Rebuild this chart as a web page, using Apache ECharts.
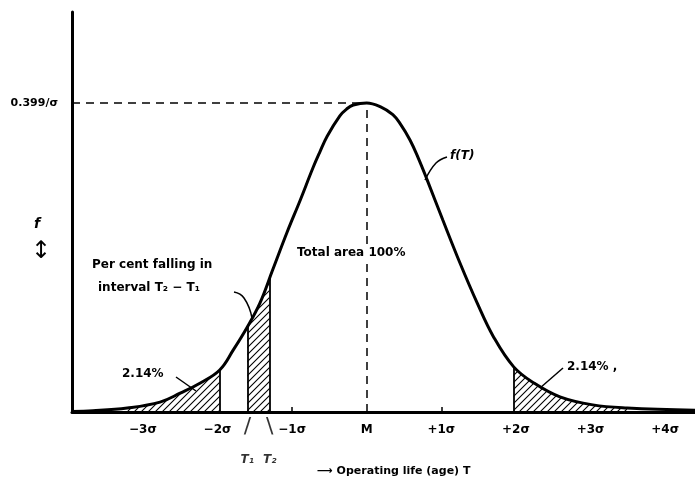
<!DOCTYPE html>
<html>
<head>
<meta charset="utf-8">
<script src="https://cdn.jsdelivr.net/npm/echarts@6/dist/echarts.min.js"></script>
<style>html,body{margin:0;padding:0;background:#fff}#chart{width:695px;height:481px}</style>
</head>
<body>
<div id="chart"></div>
<script>
// curve: x in sigma units from M, y as fraction of peak height
var sigma = [-3.95, -3.67, -3.21, -2.77, -2.5, -2.23, -1.97, -1.79, -1.6, -1.43, -1.26, -1.07, -0.89, -0.72, -0.63, -0.53, -0.36, -0.27, -0.18, 0,
             0.18, 0.35, 0.45, 0.58, 0.69, 0.81, 1.02, 1.25, 1.48, 1.7, 1.97, 2.24, 2.59, 3.03, 3.49, 4.4];
var fval = [0.002, 0.004, 0.013, 0.032, 0.061, 0.094, 0.136, 0.2, 0.275, 0.353, 0.46, 0.58, 0.686, 0.79, 0.84, 0.892, 0.958, 0.98, 0.993, 1.0,
            0.988, 0.962, 0.932, 0.88, 0.822, 0.751, 0.621, 0.482, 0.353, 0.243, 0.146, 0.094, 0.049, 0.023, 0.013, 0.006];
var tickVals = [-3, -2, -1, 0, 1, 2, 3, 4];
var tickNames = ['−3σ', '−2σ', '−1σ', 'M', '+1σ', '+2σ', '+3σ', '+4σ'];
var leftTail = [-3.21, -1.97];
var rightTail = [1.97, 3.49];
var stripSigma = [-1.6, -1.43, -1.3];
var stripF = [0.275, 0.353, 0.43];
var tMarks = [-1.6, -1.3];
var tNames = ['T₁', 'T₂'];
var peakLabel = '0.399/σ';

var FONT = 'DejaVu Sans';

function pairs(xs, ys){
    var out = [];
    for (var i = 0; i < xs.length; i++) out.push([xs[i], ys[i]]);
    return out;
}
function range(a, b){
    return pairs(sigma, fval).filter(function(p){ return p[0] >= a - 1e-9 && p[0] <= b + 1e-9; });
}
function fAt(s){
    var p = pairs(sigma, fval).filter(function(q){ return Math.abs(q[0] - s) < 1e-9; });
    return p.length ? p[0][1] : 0;
}

// hatch pattern  ///
var pat = document.createElement('canvas');
pat.width = 7; pat.height = 7;
var pc = pat.getContext('2d');
pc.strokeStyle = '#000';
pc.lineWidth = 1.1;
pc.beginPath();
pc.moveTo(0, 7); pc.lineTo(7, 0);
pc.moveTo(-1, 1); pc.lineTo(1, -1);
pc.moveTo(6, 8); pc.lineTo(8, 6);
pc.stroke();
var hatch = {image: pat, repeat: 'repeat'};

function edge(s, y){
    return [{coord: [s, 0]}, {coord: [s, y]}];
}
function hatchSeries(data, edges){
    return {
        type: 'line',
        data: data,
        smooth: 0.4,
        symbol: 'none',
        lineStyle: {width: 0},
        areaStyle: {color: hatch, opacity: 1},
        z: 2,
        markLine: {
            silent: true, symbol: 'none', label: {show: false},
            lineStyle: {color: '#000', type: 'solid', width: 1.8},
            data: edges
        }
    };
}

var chart = echarts.init(document.getElementById('chart'));
var option = {
    animation: false,
    backgroundColor: '#fff',
    textStyle: {fontFamily: FONT, color: '#000'},
    grid: {left: 72, right: 0, top: 12, bottom: 69},
    xAxis: {
        type: 'value',
        min: -3.95,
        max: 4.4,
        axisLine: {onZero: false, lineStyle: {color: '#000', width: 3}},
        axisTick: {show: true, inside: true, length: 5, customValues: [-1, 1], lineStyle: {color: '#000', width: 1.5}},
        splitLine: {show: false},
        axisLabel: {
            customValues: tickVals,
            margin: 12,
            fontSize: 12,
            fontWeight: 'bold',
            fontFamily: FONT,
            color: '#000',
            formatter: function(v){
                var i = tickVals.indexOf(Math.round(v));
                return i >= 0 ? tickNames[i] : '';
            }
        }
    },
    yAxis: {
        type: 'value',
        min: 0,
        max: 1.294,
        axisLine: {show: true, onZero: false, lineStyle: {color: '#000', width: 3}},
        axisTick: {show: false},
        splitLine: {show: false},
        axisLabel: {
            customValues: [1],
            margin: 14,
            fontSize: 11,
            fontWeight: 'bold',
            fontFamily: FONT,
            color: '#000',
            formatter: function(){ return peakLabel; }
        }
    },
    series: [
        hatchSeries(range(leftTail[0], leftTail[1]), [edge(leftTail[1], fAt(leftTail[1]))]),
        hatchSeries(pairs(stripSigma, stripF), [
            edge(stripSigma[0], stripF[0]),
            edge(stripSigma[stripSigma.length - 1], stripF[stripF.length - 1])
        ]),
        hatchSeries(range(rightTail[0], rightTail[1]), [edge(rightTail[0], fAt(rightTail[0]))]),
        {
            type: 'line',
            data: pairs(sigma, fval),
            smooth: 0.4,
            symbol: 'none',
            lineStyle: {color: '#000', width: 3},
            z: 5,
            markLine: {
                silent: true, symbol: 'none', label: {show: false},
                lineStyle: {color: '#000', type: [8, 6], width: 1.5},
                data: [
                    [{coord: [-3.95, 1]}, {coord: [0, 1]}],
                    [{coord: [0, 0]}, {coord: [0, 1]}]
                ]
            }
        },
        {
            // T1 / T2 markers under the axis
            type: 'scatter',
            data: tMarks.map(function(s, i){ return {value: [s, 0], name: tNames[i], mark: i == 0 ? '/' : '\\'}; }),
            symbolSize: 0,
            clip: false,
            z: 6,
            label: {
                show: true,
                position: 'bottom',
                distance: 0,
                align: 'center',
                formatter: function(p){ return '{m|' + p.data.mark + '}\n{t|' + p.name + '}'; },
                rich: {
                    m: {fontSize: 22, lineHeight: 30, fontFamily: FONT, color: '#000'},
                    t: {fontSize: 12, lineHeight: 36, fontStyle: 'italic', fontWeight: 'bold', fontFamily: FONT, color: '#000'}
                }
            }
        }
    ],
    graphic: [
        {type: 'text', left: 297, top: 246, z: 20, style: {text: 'Total area 100%', font: 'bold 12px ' + FONT, fill: '#000', backgroundColor: '#fff', padding: [1, 0]}},
        {type: 'text', left: 92, top: 259, style: {text: 'Per cent falling in', font: 'bold 12px ' + FONT, fill: '#000'}},
        {type: 'text', left: 98, top: 282, style: {text: 'interval T₂ − T₁', font: 'bold 12px ' + FONT, fill: '#000'}},
        {type: 'polyline', shape: {points: [[234, 292], [244, 298], [252, 318]], smooth: 0.5}, style: {stroke: '#000', lineWidth: 1.5, fill: null}, z: 10},
        {type: 'text', left: 122, top: 368, style: {text: '2.14%', font: 'bold 12px ' + FONT, fill: '#000'}},
        {type: 'line', shape: {x1: 176, y1: 377, x2: 196, y2: 391}, style: {stroke: '#000', lineWidth: 1.5}, z: 10},
        {type: 'text', left: 567, top: 361, style: {text: '2.14% ,', font: 'bold 12px ' + FONT, fill: '#000'}},
        {type: 'line', shape: {x1: 563, y1: 368, x2: 540, y2: 388}, style: {stroke: '#000', lineWidth: 1.5}, z: 10},
        {type: 'text', left: 450, top: 150, style: {text: 'f(T)', font: 'italic bold 12px ' + FONT, fill: '#000'}},
        {type: 'polyline', shape: {points: [[447, 157], [436, 163], [425, 180]], smooth: 0.4}, style: {stroke: '#000', lineWidth: 1.5, fill: null}, z: 10},
        {type: 'text', left: 34, top: 217, style: {text: 'f', font: 'italic bold 14px ' + FONT, fill: '#000'}},
        {type: 'text', left: 31, top: 240, style: {text: '↕', font: '24px ' + FONT, fill: '#000'}},
        {type: 'text', left: 317, top: 466, style: {text: '⟶ Operating life (age) T', font: 'bold 11px ' + FONT, fill: '#000'}}
    ]
};
chart.setOption(option);
</script>
</body>
</html>
